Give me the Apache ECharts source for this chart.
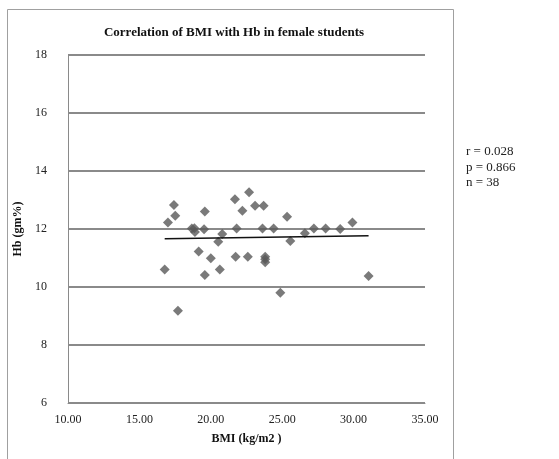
<!DOCTYPE html>
<html>
<head>
<meta charset="utf-8">
<script src="https://cdn.jsdelivr.net/npm/echarts@6/dist/echarts.min.js"></script>
<style>
html,body{margin:0;padding:0;background:#fff;}
#chart{width:559px;height:459px;}
</style>
</head>
<body>
<div id="chart"></div>
<script>
// Data
var bmi = [17.42, 17.51, 17.00, 16.77, 19.58, 18.67, 18.85, 18.89, 19.53, 20.80,
           20.52, 19.15, 20.00, 19.58, 20.63, 17.70, 21.69, 22.68, 22.21, 23.10,
           23.70, 25.34, 21.81, 23.62, 24.40, 25.57, 21.74, 22.59, 23.81, 23.81,
           24.87, 26.59, 27.22, 28.04, 29.06, 29.92, 31.05, 23.81];
var hb  = [12.83, 12.46, 12.22, 10.60, 12.60, 12.02, 12.03, 11.90, 11.99, 11.83,
           11.56, 11.22, 10.99, 10.41, 10.60, 9.18, 13.03, 13.27, 12.63, 12.80,
           12.80, 12.42, 12.02, 12.02, 12.02, 11.59, 11.04, 11.04, 11.04, 10.85,
           9.80, 11.85, 12.02, 12.02, 12.00, 12.22, 10.38, 10.96];
var trendX = [16.77, 31.05];
var trendY = [11.66, 11.77];
var xTicks = [10, 15, 20, 25, 30, 35];
var yTicks = [6, 8, 10, 12, 14, 16, 18];
var statsText = ['r = 0.028', 'p = 0.866', 'n = 38'];
var titleText = 'Correlation of BMI with Hb in female students';

var points = bmi.map(function (x, i) { return [x, hb[i]]; });
var trend = trendX.map(function (x, i) { return [x, trendY[i]]; });
var serif = '"Liberation Serif", "DejaVu Serif", serif';

var chart = echarts.init(document.getElementById('chart'), null, {renderer: 'canvas'});
chart.setOption({
  backgroundColor: '#ffffff',
  animation: false,
  title: {
    text: titleText,
    left: 229, top: 21, textAlign: 'center',
    textStyle: {fontFamily: serif, fontSize: 13, fontWeight: 'bold', color: '#111'}
  },
  grid: {left: 68, right: 134, top: 55, bottom: 56, containLabel: false},
  xAxis: {
    type: 'value',
    min: xTicks[0], max: xTicks[xTicks.length - 1], interval: 5,
    name: 'BMI (kg/m2 )', nameLocation: 'middle', nameGap: 30,
    nameTextStyle: {fontFamily: serif, fontSize: 12, fontWeight: 'bold', color: '#111'},
    axisLine: {show: true, lineStyle: {color: '#8a8a8a', width: 1}},
    axisTick: {show: false},
    splitLine: {show: false},
    axisLabel: {fontFamily: serif, fontSize: 12, color: '#222', margin: 11,
      formatter: function (v) { return v.toFixed(2); }}
  },
  yAxis: {
    type: 'value',
    min: yTicks[0], max: yTicks[yTicks.length - 1], interval: 2,
    name: 'Hb (gm%)', nameLocation: 'middle', nameGap: 44, nameRotate: 90,
    nameTextStyle: {fontFamily: serif, fontSize: 12, fontWeight: 'bold', color: '#111'},
    axisLine: {show: true, lineStyle: {color: '#8a8a8a', width: 1}},
    axisTick: {show: false},
    splitLine: {show: true, lineStyle: {color: '#8a8a8a', width: 2}},
    axisLabel: {fontFamily: serif, fontSize: 12, color: '#222', margin: 21}
  },
  graphic: [
    {type: 'rect', shape: {x: 7.5, y: 9.5, width: 446, height: 470},
     style: {fill: 'none', stroke: '#a0a0a0', lineWidth: 1}, silent: true, z: -1},
    {type: 'text', left: 466, top: 144,
     style: {text: statsText.join('\n'), fontFamily: serif, fontSize: 13, lineHeight: 15.5, fill: '#222'}}
  ],
  series: [
    {type: 'scatter', data: points, symbol: 'diamond', symbolSize: 10,
     itemStyle: {color: '#595959'}, z: 3},
    {type: 'line', data: trend, showSymbol: false, symbol: 'none',
     lineStyle: {color: '#111', width: 1.5}, z: 4}
  ]
});
</script>
</body>
</html>
